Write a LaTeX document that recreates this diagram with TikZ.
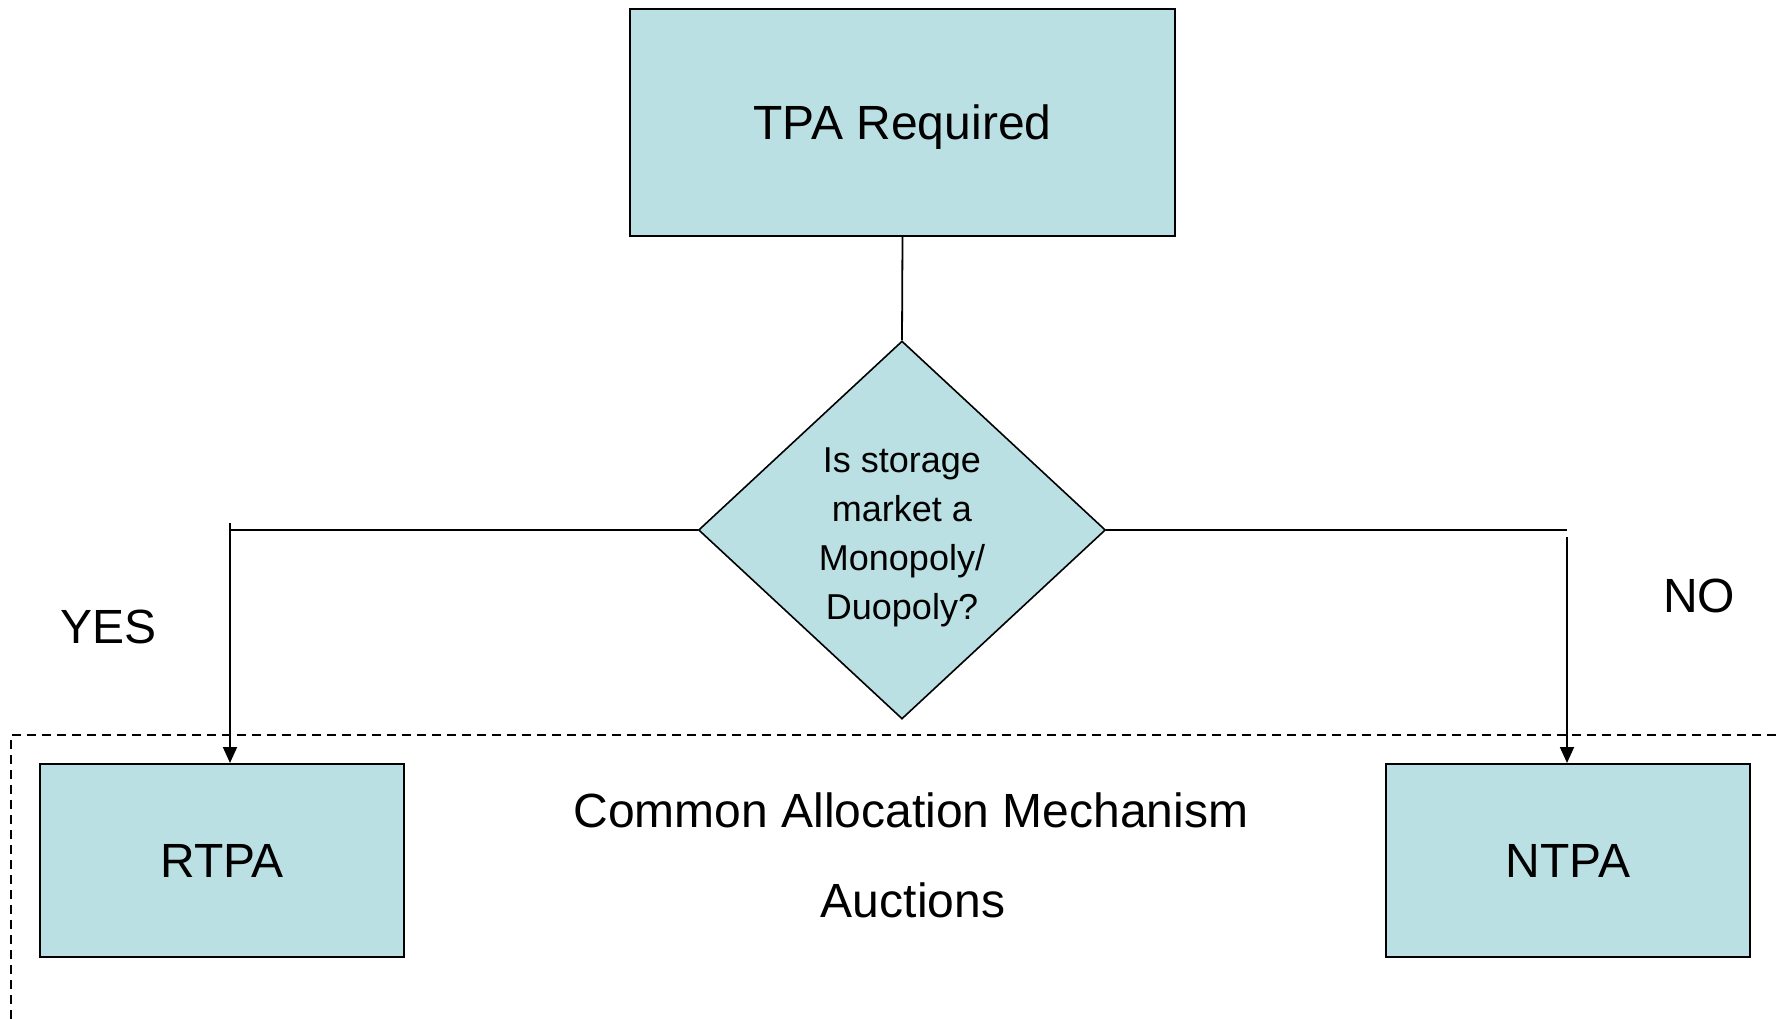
\documentclass[tikz,border=0pt]{standalone}
\usepackage{fontspec}
\setmainfont{Liberation Sans}
\usetikzlibrary{shapes.geometric,arrows.meta}
\definecolor{boxfill}{RGB}{186,224,227}
\begin{document}
\begin{tikzpicture}[x=1pt,y=-1pt,
  boxstyle/.style={draw=black, fill=boxfill, line width=2pt, inner sep=0pt, text depth=0pt, font=\fontsize{48}{58}\selectfont},
  decision/.style={diamond, draw=black, fill=boxfill, line width=1.6pt, minimum width=407pt, minimum height=378pt, inner sep=0pt},
  dtext/.style={align=center, inner sep=0pt, font=\fontsize{36}{49}\selectfont},
  conn/.style={draw=black, line width=1.8pt},
  arr/.style={conn, -{Triangle[length=16pt,width=14pt]}},
  lbl/.style={font=\fontsize{48}{58}\selectfont, anchor=base, inner sep=0pt},
  grouping/.style={draw=black, line width=1.5pt, dash pattern=on 9pt off 6pt}]
\useasboundingbox (0,0) rectangle (1778,1019);
% dashed grouping frame
\draw[grouping] (11,1019) -- (11,735) -- (1778,735);
% nodes
\node[boxstyle, minimum width=545pt, minimum height=227pt] (tpa) at (902.5,122.5) {TPA Required};
\node[decision] (dec) at (902,530) {};
\node[dtext] (dectext) at ([yshift=-7pt]dec.center) {Is storage\\market a\\Monopoly/\\Duopoly?};
\node[boxstyle, minimum width=364pt, minimum height=193pt] (rtpa) at (222,860.5) {RTPA};
\node[boxstyle, minimum width=364pt, minimum height=193pt] (ntpa) at (1568,860.5) {NTPA};
% labels
\node[lbl] (yes) at (108.5,643.5) {YES};
\node[lbl] (no) at (1699,612.5) {NO};
\node[lbl] (cam) at (911,827) {Common Allocation Mechanism};
\node[lbl] (auc) at (913,917) {Auctions};
% connector helpers
\coordinate (ltop) at (230,523);
\coordinate (lc) at (dec.west -| ltop);
\coordinate (rtop) at (1567,537);
\coordinate (rc) at (dec.east -| rtop);
% connectors
\draw[conn] (tpa.south) -- (dec.north);
\draw[conn] (dec.west) -- (lc);
\draw[arr] (ltop) -- (ltop |- rtpa.north);
\draw[conn] (dec.east) -- (rc);
\draw[arr] (rtop) -- (rtop |- ntpa.north);
\end{tikzpicture}
\end{document}
